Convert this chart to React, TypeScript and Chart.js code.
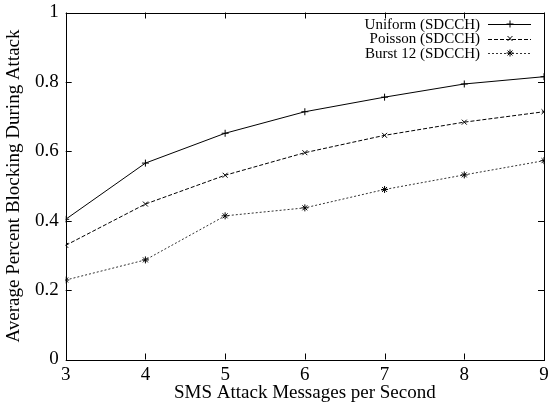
import React, { useEffect, useRef } from "react";
import { Chart, registerables } from "chart.js";

Chart.register(...registerables);

const rates = [3, 4, 5, 6, 7, 8, 9];
const uniform = [0.404, 0.566, 0.652, 0.714, 0.756, 0.794, 0.815];
const poisson = [0.329, 0.448, 0.531, 0.596, 0.646, 0.684, 0.714];
const burst12 = [0.229, 0.287, 0.414, 0.437, 0.49, 0.532, 0.573];
const seriesNames = ["Uniform (SDCCH)", "Poisson (SDCCH)", "Burst 12 (SDCCH)"];
const yTicks = [0, 0.2, 0.4, 0.6, 0.8, 1];
const xTitle = "SMS Attack Messages per Second";
const yTitle = "Average Percent Blocking During Attack";

const FONT = "'Liberation Serif', 'DejaVu Serif', serif";

const framePlugin = {
  id: "gnuFrame",
  afterDatasetsDraw(chart: any) {
    const { ctx, chartArea } = chart;
    const { left, right, top, bottom } = chartArea;
    const xs = chart.scales.x;
    const ys = chart.scales.y;
    ctx.save();
    ctx.strokeStyle = "#000";
    ctx.lineWidth = 1;
    ctx.setLineDash([]);
    ctx.strokeRect(Math.round(left) + 0.5, Math.round(top) + 0.5, Math.round(right - left), Math.round(bottom - top));
    const tl = 6;
    ctx.beginPath();
    xs.ticks.forEach((t: any) => {
      const px = Math.round(xs.getPixelForValue(t.value)) + 0.5;
      ctx.moveTo(px, bottom);
      ctx.lineTo(px, bottom - tl);
      ctx.moveTo(px, top);
      ctx.lineTo(px, top + tl);
    });
    ys.ticks.forEach((t: any) => {
      const py = Math.round(ys.getPixelForValue(t.value)) + 0.5;
      ctx.moveTo(left, py);
      ctx.lineTo(left + tl, py);
      ctx.moveTo(right, py);
      ctx.lineTo(right - tl, py);
    });
    ctx.stroke();

    // legend
    ctx.font = `15px ${FONT}`;
    ctx.fillStyle = "#000";
    ctx.textAlign = "right";
    ctx.textBaseline = "middle";
    const textRight = 480;
    const lx0 = 488;
    const lx1 = 531;
    const rowY = [24, 38.5, 53];
    chart.data.datasets.forEach((ds: any, i: number) => {
      const y = rowY[i];
      ctx.fillText(ds.label, textRight, y + 1);
      ctx.beginPath();
      ctx.setLineDash(ds.borderDash || []);
      ctx.strokeStyle = ds.borderColor;
      ctx.lineWidth = 1;
      ctx.moveTo(lx0, Math.round(y) + 0.5);
      ctx.lineTo(lx1, Math.round(y) + 0.5);
      ctx.stroke();
      ctx.setLineDash([]);
      ctx.strokeStyle = "#000";
      const mx = 510;
      const r = ds.pointRadius;
      ctx.beginPath();
      if (ds.pointStyle === "cross" || ds.pointStyle === "star") {
        ctx.moveTo(mx - r, y);
        ctx.lineTo(mx + r, y);
        ctx.moveTo(mx, y - r);
        ctx.lineTo(mx, y + r);
      }
      if (ds.pointStyle === "crossRot" || ds.pointStyle === "star") {
        const d = r * 0.707;
        ctx.moveTo(mx - d, y - d);
        ctx.lineTo(mx + d, y + d);
        ctx.moveTo(mx - d, y + d);
        ctx.lineTo(mx + d, y - d);
      }
      ctx.stroke();
    });
    ctx.restore();
  },
};

export default function App() {
  const ref = useRef<HTMLCanvasElement>(null);
  useEffect(() => {
    if (!ref.current) return;
    const mk = (vals: number[]) => rates.map((x, i) => ({ x, y: vals[i] }));
    const chart = new Chart(ref.current, {
      type: "line",
      data: {
        datasets: [
          {
            label: seriesNames[0],
            data: mk(uniform),
            borderColor: "#000",
            borderWidth: 1,
            borderDash: [],
            pointStyle: "cross",
            pointRadius: 3.5,
            pointBorderColor: "#000",
            pointBorderWidth: 1,
            fill: false,
            tension: 0,
          },
          {
            label: seriesNames[1],
            data: mk(poisson),
            borderColor: "#000",
            borderWidth: 1,
            borderDash: [4, 2],
            pointStyle: "crossRot",
            pointRadius: 3.5,
            pointBorderColor: "#000",
            pointBorderWidth: 1,
            fill: false,
            tension: 0,
          },
          {
            label: seriesNames[2],
            data: mk(burst12),
            borderColor: "#333",
            borderWidth: 1,
            borderDash: [2, 2],
            pointStyle: "star",
            pointRadius: 3.5,
            pointBorderColor: "#000",
            pointBorderWidth: 1,
            fill: false,
            tension: 0,
          },
        ],
      },
      options: {
        responsive: false,
        animation: false,
        devicePixelRatio: 1,
        layout: { padding: { top: 12.5, right: 2, left: 0, bottom: 0 } },
        plugins: {
          legend: { display: false },
          tooltip: { enabled: false },
        },
        scales: {
          x: {
            type: "linear",
            min: 3,
            max: 9,
            afterBuildTicks: (s: any) => {
              s.ticks = rates.map((v) => ({ value: v }));
            },
            ticks: {
              color: "#000",
              font: { family: FONT, size: 19 },
              padding: 4,
              maxRotation: 0,
              callback: (v: any) => String(v),
            },
            grid: { display: false, drawTicks: false },
            border: { display: false },
            title: {
              display: true,
              text: xTitle,
              color: "#000",
              font: { family: FONT, size: 19, lineHeight: 1 },
              padding: { top: 0, bottom: 0 },
            },
            afterFit: (s: any) => {
              s.height = 43.5;
              s.paddingLeft = 0;
              s.paddingRight = 0;
            },
          },
          y: {
            type: "linear",
            min: 0,
            max: 1,
            afterBuildTicks: (s: any) => {
              s.ticks = yTicks.map((v) => ({ value: v }));
            },
            ticks: {
              color: "#000",
              font: { family: FONT, size: 19 },
              padding: 7,
              callback: (v: any) => String(Math.round(Number(v) * 10) / 10),
            },
            grid: { display: false, drawTicks: false },
            border: { display: false },
            title: {
              display: true,
              text: yTitle,
              color: "#000",
              font: { family: FONT, size: 19, lineHeight: 1 },
              padding: { top: 5, bottom: 0 },
            },
            afterFit: (s: any) => {
              s.width = 65.7;
              s.paddingTop = 0;
              s.paddingBottom = 0;
            },
          },
        },
      },
      plugins: [framePlugin],
    } as any);
    return () => chart.destroy();
  }, []);
  return (
    <div style={{ position: "fixed", left: 0, top: 0, width: 549, height: 403, background: "#fff" }}>
      <canvas ref={ref} width={549} height={403} style={{ display: "block" }} />
    </div>
  );
}
